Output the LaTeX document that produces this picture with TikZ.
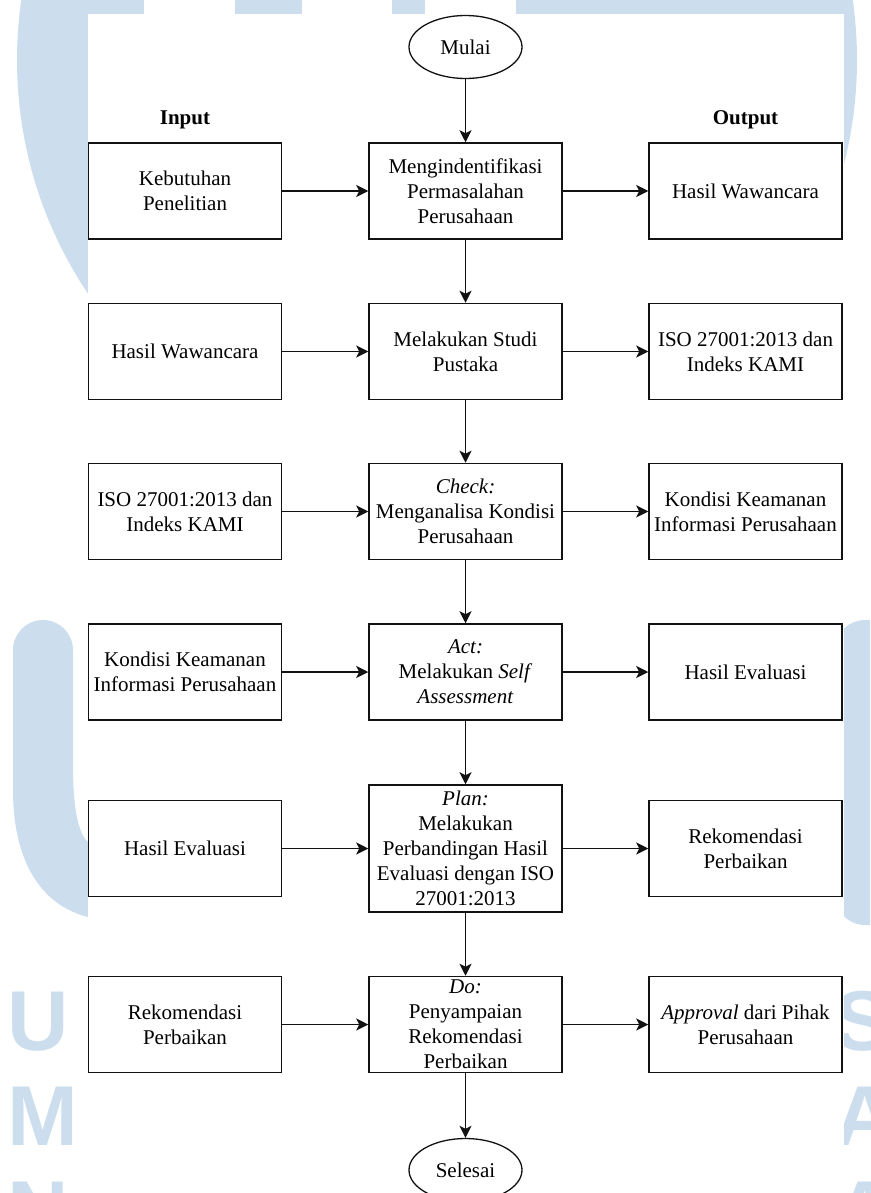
\documentclass[tikz,border=0pt]{standalone}
\usepackage{fontspec}
\setmainfont{Liberation Serif}
\newfontfamily\markfont{Liberation Sans}
\usetikzlibrary{arrows.meta, positioning, shapes.geometric}
\definecolor{markblue}{RGB}{204, 222, 238}
\definecolor{flowblack}{RGB}{18, 18, 18}

\begin{document}
\begin{tikzpicture}[x=1pt, y=-1pt,
    box/.style={draw=flowblack, line width=1.5pt, minimum width=193pt, minimum height=96pt,
        inner sep=0pt, align=center, font=\fontsize{21}{25}\selectfont},
    term/.style={ellipse, draw=flowblack, line width=1.3pt, minimum width=113pt,
        minimum height=63pt, inner sep=0pt, font=\fontsize{21}{25}\selectfont},
    flow/.style={-{Stealth[length=12pt, width=12pt, inset=3pt]}, flowblack, line width=1.6pt},
    head/.style={font=\fontsize{21}{25}\selectfont\bfseries},
    wmletter/.style={markblue, inner sep=0pt, anchor=base west, font=\fontsize{85}{85}\markfont\bfseries}]

    \useasboundingbox (0,0) rectangle (870,1193);
    \clip (0,0) rectangle (870,1193);

    % watermark behind the scan
    \fill[markblue] (437,60) circle (420pt);
    \fill[white] (144,0) rectangle (235,14);
    \fill[white] (302,0) rectangle (392,14);
    \fill[white] (425,0) rectangle (516,14);
    \fill[markblue] (13,650) arc[start angle=180, end angle=0, radius=30pt] -- (73,765)
        .. controls (73,815) and (80,835) .. (88,842) -- (88,917)
        .. controls (40,905) and (13,860) .. (13,790) -- cycle;
    \fill[markblue, rounded corners=30pt] (835,620) rectangle (905,925);
    \node[wmletter] (wmU) at (7,1050) {U};
    \node[wmletter] (wmM) at (7,1145) {M};
    \node[wmletter] (wmN) at (7,1240) {N};
    \node[wmletter] (wmS) at (834,1050) {S};
    \node[wmletter] (wmA) at (834,1145) {A};
    \node[wmletter] (wmAA) at (834,1240) {A};
    \fill[white] (88,14) rectangle (844,1193);

    % flowchart
    \node[term] (mulai) at (465.5,47) {Mulai};
    \node[head] (inlabel) at (185,120) {Input};
    \node[head] (outlabel) at (745.5,120) {Output};

    \node[box] (in1) at (185,191) {Kebutuhan\\Penelitian};
    \node[box] (step1) at (465.5,191) {Mengindentifikasi\\Permasalahan\\Perusahaan};
    \node[box] (out1) at (745.5,191) {Hasil Wawancara};

    \node[box] (in2) at (185,351.5) {Hasil Wawancara};
    \node[box] (step2) at (465.5,351.5) {Melakukan Studi\\Pustaka};
    \node[box] (out2) at (745.5,351.5) {ISO 27001:2013 dan\\Indeks KAMI};

    \node[box] (in3) at (185,511.5) {ISO 27001:2013 dan\\Indeks KAMI};
    \node[box] (step3) at (465.5,511.5) {\textit{Check:}\\Menganalisa Kondisi\\Perusahaan};
    \node[box] (out3) at (745.5,511.5) {Kondisi Keamanan\\Informasi Perusahaan};

    \node[box] (in4) at (185,672) {Kondisi Keamanan\\Informasi Perusahaan};
    \node[box] (step4) at (465.5,672) {\textit{Act:}\\Melakukan \textit{Self}\\\textit{Assessment}};
    \node[box] (out4) at (745.5,672) {Hasil Evaluasi};

    \node[box] (in5) at (185,848.5) {Hasil Evaluasi};
    \node[box, minimum height=127pt] (step5) at (465.5,848.5) {\textit{Plan:}\\Melakukan\\Perbandingan Hasil\\Evaluasi dengan ISO\\27001:2013};
    \node[box] (out5) at (745.5,848.5) {Rekomendasi\\Perbaikan};

    \node[box] (in6) at (185,1024.5) {Rekomendasi\\Perbaikan};
    \node[box] (step6) at (465.5,1024.5) {\textit{Do:}\\Penyampaian\\Rekomendasi\\Perbaikan};
    \node[box] (out6) at (745.5,1024.5) {\textit{Approval} dari Pihak\\Perusahaan};

    \node[term] (selesai) at (465.5,1170) {Selesai};

    \foreach \i in {1,...,6} {
        \draw[flow] (in\i) -- (step\i);
        \draw[flow] (step\i) -- (out\i);
    }
    \draw[flow] (mulai) -- (step1);
    \foreach \i/\j in {1/2, 2/3, 3/4, 4/5, 5/6}
        \draw[flow] (step\i) -- (step\j);
    \draw[flow] (step6) -- (selesai);
\end{tikzpicture}
\end{document}
